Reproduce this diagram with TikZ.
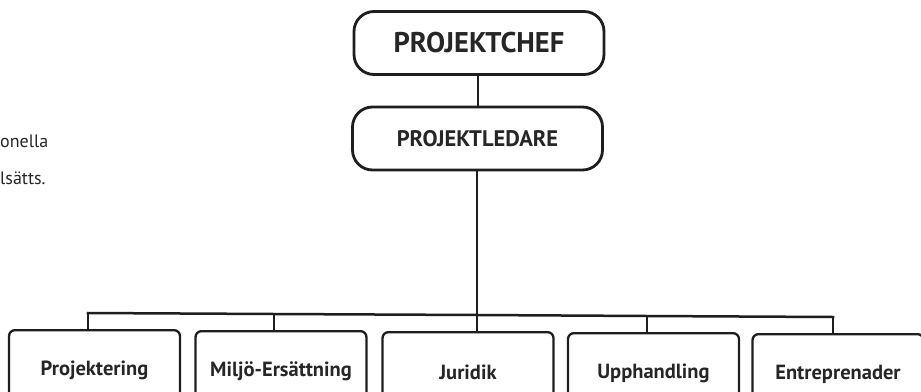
\documentclass[tikz,border=0pt]{standalone}
\usepackage{fontspec}
\setmainfont{PT Sans}
\definecolor{ink}{HTML}{1E1E1E}
\definecolor{txt}{HTML}{262626}
\begin{document}
\begin{tikzpicture}[x=1pt,y=-1pt,
  topbox/.style={draw=ink, line width=2.8pt, rounded corners=20pt, minimum width=250pt, minimum height=63pt, inner sep=0pt, text=txt, font=\bfseries},
  lowbox/.style={draw=ink, line width=2.3pt, rounded corners=6pt, minimum width=171pt, minimum height=80pt, inner sep=0pt, anchor=north, text=txt, font=\fontsize{20.5}{22}\selectfont\bfseries},
  conn/.style={draw=ink, line width=2.5pt},
  side/.style={anchor=base west, inner sep=0pt, text=txt, font=\fontsize{18}{19}\selectfont}]
\clip (0,0) rectangle (921,391);
\fill[white] (0,0) rectangle (921,391);

\node[side] (t1) at (0,147) {onella};
\node[side] (t2) at (0,184) {lsätts.};

\node[topbox, font=\fontsize{28.5}{30}\selectfont\bfseries] (chef) at (479,43) {PROJEKTCHEF};
\node[topbox, font=\fontsize{22.5}{24}\selectfont\bfseries] (ledare) at (477.5,138.5) {PROJEKTLEDARE};

\node[lowbox] (p1) at (94.5,329) {Projektering};
\node[lowbox] (p2) at (281,330) {Miljö-Ersättning};
\node[lowbox] (p3) at (468,331) {Juridik};
\node[lowbox] (p4) at (653.5,332) {Upphandling};
\node[lowbox] (p5) at (838,333) {Entreprenader};

\coordinate (b1) at (88,313);
\coordinate (b2) at (274,314);
\coordinate (b3) at (477,315);
\coordinate (b4) at (647,316);
\coordinate (b5) at (833,317);

\draw[conn] (chef.south -| ledare.north) ++(0.5,0) coordinate (cc) -- (cc |- ledare.north);
\draw[conn] (ledare.south -| b3) -- (b3);
\draw[conn, line cap=rect] (b1) -- (b2) -- (b3) -- (b4) -- (b5);
\draw[conn] (b1) -- (b1 |- p1.north);
\draw[conn] (b2) -- (b2 |- p2.north);
\draw[conn] (b3) -- (b3 |- p3.north);
\draw[conn] (b4) -- (b4 |- p4.north);
\draw[conn] (b5) -- (b5 |- p5.north);
\end{tikzpicture}
\end{document}
